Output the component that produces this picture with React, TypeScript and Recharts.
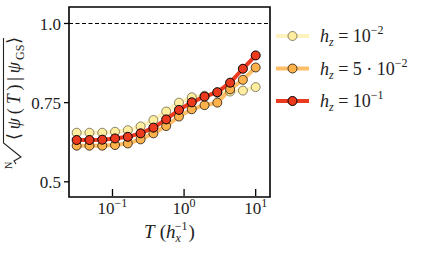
import { LineChart, Line, XAxis, YAxis, ReferenceLine, ReferenceArea, Legend } from 'recharts'

// T in units of 1/h_x (log-spaced)
const T_VALUES = [0.0316, 0.0477, 0.072, 0.1085, 0.1638, 0.2471, 0.3728, 0.5623, 0.8483, 1.2797, 1.9307, 2.9125, 4.394, 6.6289, 10]
const HZ_1E2 = [0.655, 0.655, 0.655, 0.658, 0.663, 0.675, 0.695, 0.722, 0.75, 0.767, 0.772, 0.781, 0.785, 0.788, 0.799]
const HZ_5E2 = [0.614, 0.614, 0.614, 0.616, 0.621, 0.634, 0.653, 0.676, 0.706, 0.729, 0.742, 0.75, 0.792, 0.822, 0.861]
const HZ_1E1 = [0.632, 0.632, 0.633, 0.637, 0.642, 0.653, 0.671, 0.697, 0.727, 0.751, 0.769, 0.783, 0.813, 0.857, 0.899]

const X_TICKS = [0.1, 1, 10]
const X_EXPONENTS = ['\u22121', '0', '1']
const Y_TICKS = [0.5, 0.75, 1.0]
const X_DOMAIN = [0.0247, 15.85]
const Y_DOMAIN = [0.452, 1.052]

const SERIES = [
  { key: 'a', label: ['10', '\u22122'], line: '#ffeda0', lineOpacity: 0.7, fill: '#ffeda0', dotStroke: 0.45 },
  { key: 'b', label: ['5 \u00b7 10', '\u22122'], line: '#feb24c', lineOpacity: 0.85, fill: '#feb24c', dotStroke: 0.7 },
  { key: 'c', label: ['10', '\u22121'], line: '#ec3a1f', lineOpacity: 1, fill: '#ec3a1f', dotStroke: 1 },
]

const data = T_VALUES.map((t, i) => ({ t, a: HZ_1E2[i], b: HZ_5E2[i], c: HZ_1E1[i] }))

const FONT = '"Liberation Serif", "DejaVu Serif", serif'

function XTick(props: any) {
  const { x, y, payload, index } = props
  return (
    <g>
      <line x1={x} y1={y - 8} x2={x} y2={y - 1} stroke="#000" strokeWidth={1.3} />
      <text x={x} y={y + 17} textAnchor="middle" fontFamily={FONT} fontSize={17} fill="#222">
        10<tspan fontSize={12} dy={-7}>{X_EXPONENTS[X_TICKS.indexOf(payload.value)] ?? X_EXPONENTS[index]}</tspan>
      </text>
    </g>
  )
}

function XLabel(props: any) {
  const vb = props.viewBox
  const cx = vb.x + vb.width / 2
  const y = vb.y + 41
  return (
    <text x={cx} y={y} textAnchor="middle" fontFamily={FONT} fontSize={19} fill="#222">
      <tspan fontStyle="italic">T</tspan>
      <tspan dx={5}>(</tspan>
      <tspan fontStyle="italic">h</tspan>
      <tspan fontStyle="italic" fontSize={12} dy={4}>x</tspan>
      <tspan fontSize={12} dx={-6} dy={-12}>{'\u22121'}</tspan>
      <tspan dx={1} dy={8}>)</tspan>
    </text>
  )
}

function YLabel(props: any) {
  const vb = props.viewBox
  const cx = vb.x + 20
  const cy = vb.y + vb.height / 2
  return (
    <g transform={`translate(${cx},${cy}) rotate(-90)`} fontFamily={FONT} fill="#222">
      <text x={-67} y={-8} fontSize={10}>N</text>
      <path d="M-62,-4 L-59,-6 L-55,1 L-41,-16.5 L64,-16.5" fill="none" stroke="#222" strokeWidth={1.1} />
      <text x={-38} y={0} fontSize={18} textLength={78} lengthAdjust="spacing">
        {'\u27e8'}<tspan fontStyle="italic">{'\u03c8'}</tspan>(<tspan fontStyle="italic">T</tspan>)|<tspan fontStyle="italic">{'\u03c8'}</tspan>
      </text>
      <text x={42} y={4} fontSize={12}>GS</text>
      <text x={58} y={0} fontSize={18}>{'\u27e9'}</text>
    </g>
  )
}

function LegendBox() {
  return (
    <svg width={149} height={110} style={{ display: 'block' }}>
      {SERIES.map((s, i) => {
        const y = 14 + i * 32.5
        return (
          <g key={s.key} fontFamily={FONT} fill="#222">
            <line x1={4} y1={y} x2={37} y2={y} stroke={s.line} strokeOpacity={s.lineOpacity} strokeWidth={4} />
            <circle cx={20.5} cy={y} r={4.5} fill={s.fill} stroke="#000" strokeOpacity={s.dotStroke} strokeWidth={1} />
            <text x={48} y={y + 6} fontSize={18}>
              <tspan fontStyle="italic">h</tspan>
              <tspan fontStyle="italic" fontSize={12} dy={4}>z</tspan>
              <tspan dy={-4}>{' = ' + s.label[0]}</tspan>
              <tspan fontSize={12} dy={-8}>{s.label[1]}</tspan>
            </text>
          </g>
        )
      })}
    </svg>
  )
}

export default function App() {
  return (
    <div style={{ position: 'absolute', left: 0, top: 0, background: '#fff' }}>
      <LineChart width={421} height={253} data={data} margin={{ top: 7, right: 151, bottom: 0, left: 0 }}>
        <ReferenceArea
          x1={X_DOMAIN[0]}
          x2={X_DOMAIN[1]}
          y1={Y_DOMAIN[0]}
          y2={Y_DOMAIN[1]}
          fill="none"
          stroke="#000"
          strokeWidth={1.6}
          ifOverflow="visible"
        />
        <XAxis
          dataKey="t"
          type="number"
          scale="log"
          domain={X_DOMAIN}
          allowDataOverflow
          ticks={X_TICKS}
          axisLine={false}
          tickLine={false}
          tickSize={0}
          tickMargin={0}
          height={56}
          tick={<XTick />}
          label={<XLabel />}
        />
        <YAxis
          type="number"
          domain={Y_DOMAIN}
          allowDataOverflow
          ticks={Y_TICKS}
          width={69}
          axisLine={false}
          tickSize={5}
          tickMargin={3}
          tickLine={{ stroke: '#000', strokeWidth: 1.3 }}
          tick={{ fontFamily: FONT, fontSize: 17, fill: '#222' }}
          tickFormatter={(v: number) => (v === 1 ? '1.0' : String(v))}
          label={<YLabel />}
        />
        <ReferenceLine y={1} stroke="#000" strokeWidth={1.1} strokeDasharray="4 2.5" />
        <Legend
          layout="vertical"
          align="center"
          verticalAlign="middle"
          wrapperStyle={{ position: 'absolute', left: 272, top: 22, width: 149 }}
          content={() => <LegendBox />}
        />
        {SERIES.map(s => (
          <Line
            key={s.key}
            dataKey={s.key}
            stroke={s.line}
            strokeOpacity={s.lineOpacity}
            strokeWidth={4}
            dot={{ r: 4.5, fill: s.fill, stroke: '#000', strokeOpacity: s.dotStroke, strokeWidth: 1, fillOpacity: 1 }}
            activeDot={false}
            isAnimationActive={false}
          />
        ))}
      </LineChart>
    </div>
  )
}
